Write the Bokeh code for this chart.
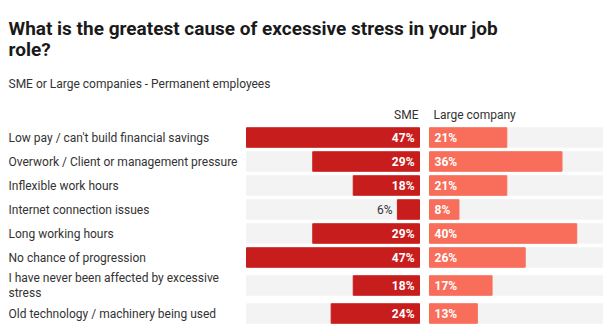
from bokeh.plotting import figure
from bokeh.models import Range1d, ColumnDataSource
from bokeh.core.properties import value
from bokeh.embed import file_html
from bokeh.resources import INLINE

title_lines = ["What is the greatest cause of excessive stress in your job", "role?"]
subtitle = "SME or Large companies - Permanent employees"
series_names = ["SME", "Large company"]
categories = [
    "Low pay / can't build financial savings",
    "Overwork / Client or management pressure",
    "Inflexible work hours",
    "Internet connection issues",
    "Long working hours",
    "No chance of progression",
    "I have never been affected by excessive\nstress",
    "Old technology / machinery being used",
]
sme = [47, 29, 18, 6, 29, 47, 18, 24]
large = [21, 36, 21, 8, 40, 26, 17, 13]

W, H = 614, 333
panel_px = 173.0
vmax = max(max(sme), max(large))
s = panel_px / vmax          # px per percent
origin_px = 419.0
gap = 10.0 / s
x0 = -origin_px / s
x1 = (W - origin_px) / s
left_x = x0 + 8.0 / s

# row centers from label line counts
centers = []
cur = 125.0
for c in categories:
    h = 24.0 + 8.0 * (c.count("\n"))
    centers.append(cur + h / 2)
    cur += h

p = figure(width=W, height=H, output_backend="svg", toolbar_location=None,
           x_range=Range1d(x0, x1), y_range=Range1d(H, 0),
           x_axis_location=None, y_axis_location=None, min_border=0)
p.outline_line_color = None
p.xgrid.visible = False
p.ygrid.visible = False
p.background_fill_color = "white"
p.border_fill_color = "white"

FONT = value("Roboto")
TXT = "#333333"
SME_C = "#c71e1d"
LRG_C = "#f86e5b"
TRACK = "#f3f3f3"
bh = 19.5

n = len(categories)
src = ColumnDataSource(dict(
    y=centers, cat=categories, sme=sme, large=large,
    sme_left=[-v for v in sme], zero=[0] * n,
    lg_left=[gap] * n, lg_right=[gap + v for v in large],
    track_l0=[-vmax] * n, track_r1=[gap + vmax] * n,
))

p.hbar(y="y", left="track_l0", right="zero", height=bh, color=TRACK, source=src)
p.hbar(y="y", left="lg_left", right="track_r1", height=bh, color=TRACK, source=src)
p.hbar(y="y", left="sme_left", right="zero", height=bh, color=SME_C, source=src)
p.hbar(y="y", left="lg_left", right="lg_right", height=bh, color=LRG_C, source=src)

# category labels
p.text(x=left_x, y="y", text="cat", source=src, text_font=FONT, text_font_size="12px",
       text_color=TXT, text_baseline="middle", text_align="left", text_line_height=1.05)

# value labels
thr = 25.0
ins_x, ins_y, ins_t, out_x, out_y, out_t = [], [], [], [], [], []
for y, v in zip(centers, sme):
    if v * s >= thr:
        ins_x.append(-5.0 / s); ins_y.append(y); ins_t.append(f"{v}%")
    else:
        out_x.append(-v - 5.0 / s); out_y.append(y); out_t.append(f"{v}%")
p.text(x=ins_x, y=ins_y, text=ins_t, text_font=FONT, text_font_size="12px",
       text_font_style="bold", text_color="white", text_baseline="middle", text_align="right")
if out_t:
    p.text(x=out_x, y=out_y, text=out_t, text_font=FONT, text_font_size="12px",
           text_color=TXT, text_baseline="middle", text_align="right")
li_x, li_y, li_t, lo_x, lo_y, lo_t = [], [], [], [], [], []
for y, v in zip(centers, large):
    if v * s >= thr:
        li_x.append(gap + 5.0 / s); li_y.append(y); li_t.append(f"{v}%")
    else:
        lo_x.append(gap + v + 5.0 / s); lo_y.append(y); lo_t.append(f"{v}%")
p.text(x=li_x, y=li_y, text=li_t, text_font=FONT, text_font_size="12px",
       text_font_style="bold", text_color="white", text_baseline="middle", text_align="left")
if lo_t:
    p.text(x=lo_x, y=lo_y, text=lo_t, text_font=FONT, text_font_size="12px",
           text_color=TXT, text_baseline="middle", text_align="left")

# headers
p.text(x=[-1.0 / s], y=[114], text=[series_names[0]], text_font=FONT, text_font_size="12px",
       text_color=TXT, text_baseline="middle", text_align="right")
p.text(x=[gap + 4.0 / s], y=[114], text=[series_names[1]], text_font=FONT, text_font_size="12px",
       text_color=TXT, text_baseline="middle", text_align="left")

# title & subtitle
p.text(x=[left_x, left_x], y=[28, 49], text=title_lines, text_font=FONT, text_font_size="19px",
       text_font_style="bold", text_color="#1a1a1a", text_baseline="alphabetic", text_align="left")
p.text(x=[left_x], y=[83], text=[subtitle], text_font=FONT, text_font_size="12px",
       text_color=TXT, text_baseline="alphabetic", text_align="left")

open("out.html", "w").write(file_html(p, INLINE))
